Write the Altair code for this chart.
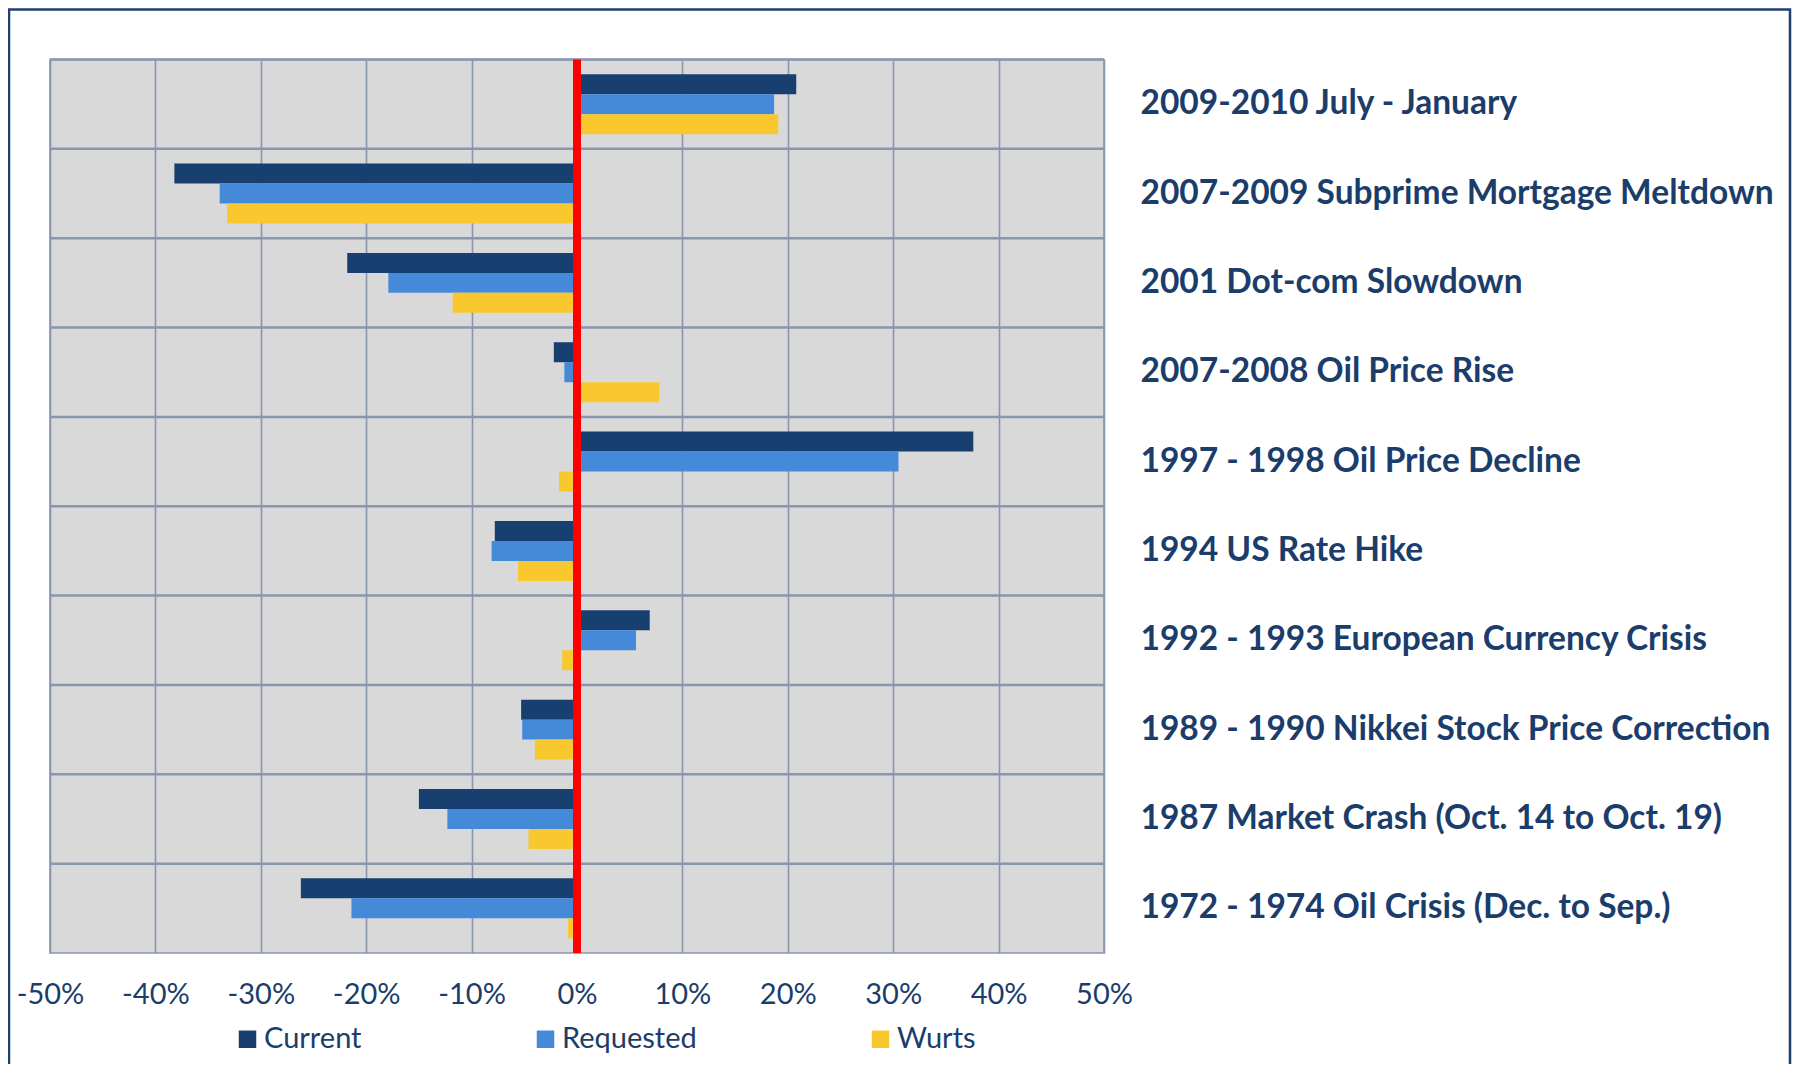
import altair as alt
import pandas as pd

events = [
    "2009-2010 July - January",
    "2007-2009 Subprime Mortgage Meltdown",
    "2001 Dot-com Slowdown",
    "2007-2008 Oil Price Rise",
    "1997 - 1998 Oil Price Decline",
    "1994 US Rate Hike",
    "1992 - 1993 European Currency Crisis",
    "1989 - 1990 Nikkei Stock Price Correction",
    "1987 Market Crash (Oct. 14 to Oct. 19)",
    "1972 - 1974 Oil Crisis (Dec. to Sep.)",
]
current = [0.208, -0.382, -0.218, -0.022, 0.376, -0.078, 0.069, -0.053, -0.150, -0.262]
requested = [0.187, -0.339, -0.179, -0.012, 0.305, -0.081, 0.056, -0.052, -0.123, -0.214]
wurts = [0.191, -0.332, -0.118, 0.078, -0.017, -0.056, -0.014, -0.040, -0.046, -0.0085]
series = ["Current", "Requested", "Wurts"]
colors = ["#173F6F", "#4589D9", "#F9C82F"]
x_ticks = [-0.5, -0.4, -0.3, -0.2, -0.1, 0.0, 0.1, 0.2, 0.3, 0.4, 0.5]

rows = []
for name, vals in zip(series, [current, requested, wurts]):
    for ev, v in zip(events, vals):
        rows.append({"event": ev, "series": name, "value": v})
df = pd.DataFrame(rows)
df_events = pd.DataFrame({"event": events})

NAVY = "#1A3D6B"
GRID = "#8A95AE"
FONT = "Lato"

W, H = 1054, 893.5

y_scale = alt.Scale(domain=events, paddingInner=0, paddingOuter=0)

hgrid = alt.Chart(df_events).mark_rule(color=GRID, strokeWidth=2.5).encode(
    y=alt.Y("event:N", sort=events, scale=y_scale, bandPosition=0)
)

bars = alt.Chart(df).mark_bar(height={"band": 1}).encode(
    x=alt.X(
        "value:Q",
        scale=alt.Scale(domain=[-0.5, 0.5], nice=False),
        axis=alt.Axis(
            values=x_ticks, format=".0%", title=None, domain=False, ticks=False,
            tickSize=0, labelPadding=41, labelFontSize=29, labelColor=NAVY,
            labelFont=FONT, grid=True, gridColor=GRID, gridWidth=1.6,
            labelBaseline="middle", labelFlush=False,
            labelExpr="replace(datum.label, '\u2212', '-')",
        ),
    ),
    y=alt.Y(
        "event:N",
        sort=events,
        scale=y_scale,
        axis=alt.Axis(
            orient="right", title=None, domain=False, ticks=False, tickSize=0,
            labelPadding=36, labelFontSize=33.5, labelFontWeight="bold",
            labelColor=NAVY, labelFont=FONT, labelLimit=1000, grid=False,
        ),
    ),
    yOffset=alt.YOffset(
        "series:N", sort=series,
        scale=alt.Scale(paddingInner=0, paddingOuter=0.734),
    ),
    color=alt.Color(
        "series:N",
        sort=series,
        scale=alt.Scale(domain=series, range=colors),
        legend=alt.Legend(
            title=None, orient="none", legendX=183, legendY=965, direction="horizontal",
            columns=3, columnPadding=169, symbolType="square", symbolSize=306,
            symbolStrokeWidth=0, labelFontSize=29, labelColor=NAVY, labelFont=FONT,
            labelOffset=2, padding=0,
        ),
    ),
)

zero = alt.Chart(pd.DataFrame({"z": [0.0]})).mark_rule(color="#FF0000", strokeWidth=8).encode(
    x="z:Q"
)

border = alt.Chart(pd.DataFrame({"b": [1]})).mark_rect(
    fill=None, stroke="#1F3F6E", strokeWidth=2.5
).encode(
    x=alt.value(-41), x2=alt.value(1740), y=alt.value(-50), y2=alt.value(1100)
)

chart = alt.layer(hgrid, bars, zero, border).properties(
    width=W, height=H,
    autosize=alt.AutoSizeParams(type="none"),
    padding={"left": 42, "top": 51.5, "right": 688, "bottom": 111},
    background="white",
).configure_view(fill="#D9D9D9", stroke=GRID, strokeWidth=1.6)

chart.save("out.html", embed_options={"renderer": "svg", "actions": False})
